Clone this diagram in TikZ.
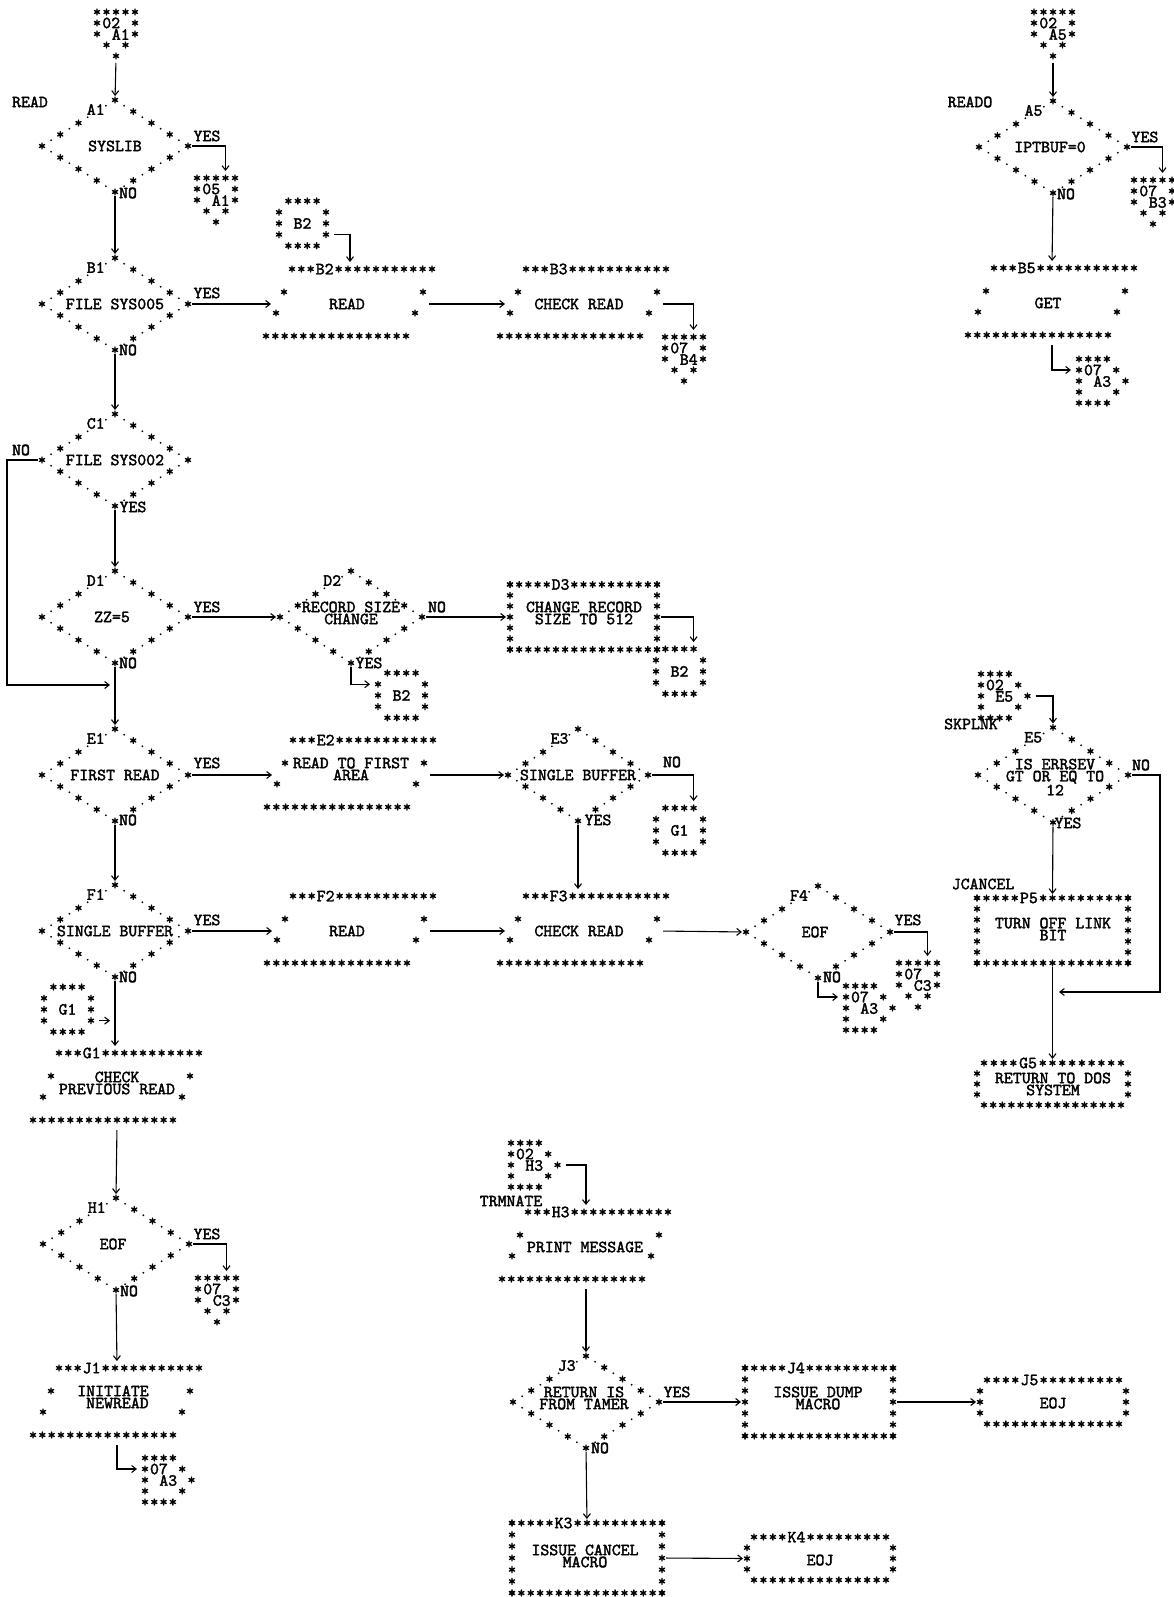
\documentclass[tikz,border=0pt]{standalone}
\usepackage{fontspec}
\usetikzlibrary{calc,arrows.meta,shapes.geometric}

% line-printer lettering
\newfontfamily\lpfam{lmmono10-regular.otf}[FakeBold=2]
\newcommand\lpf{\lpfam\fontsize{17}{12}\selectfont}

\tikzset{
  ast/.pic={\draw[line width=1.4pt,line cap=round]
      (0,-3pt)--(0,3pt) (-2.6pt,-1.5pt)--(2.6pt,1.5pt) (-2.6pt,1.5pt)--(2.6pt,-1.5pt);},
  pdot/.pic={\fill (0,0) circle (1pt);},
  lp/.style={font=\lpf, inner sep=0pt, outer sep=0pt},
  dia/.style={shape=diamond, inner sep=0pt, outer sep=0pt, minimum width=146pt, minimum height=92pt},
  iobox/.style={shape=rectangle, inner sep=0pt, outer sep=0pt, minimum width=150pt, minimum height=76pt},
  frame/.style={shape=rectangle, inner sep=0pt, outer sep=0pt},
  flow/.style={line width=1.1pt, -{Straight Barb[length=4.5pt,width=7pt,line width=1.1pt]},
    shorten <=4pt, shorten >=4pt},
}

% asterisks from #1 to #2 in #3 steps, cells #4..#5 left free
\newcommand\starline[5]{%
  \foreach \ii in {0,...,#3}{%
    \ifnum\ii<\numexpr#4\relax
      \pic at ($(#1)!\ii/#3!(#2)$) {ast};%
    \else\ifnum\ii>\numexpr#5\relax
      \pic at ($(#1)!\ii/#3!(#2)$) {ast};%
    \fi\fi}}

% decision outline: asterisks and dots, upper-left slot kept for the id
\newcommand\diastars[1]{%
  \foreach \ea/\eb in {north/east,east/south,south/west}{%
    \foreach \tq in {0,0.25,0.5,0.75}{\pic at ($(#1.\ea)!\tq!(#1.\eb)$) {ast};}}%
  \foreach \tq in {0,0.25,0.5}{\pic at ($(#1.west)!\tq!(#1.north)$) {ast};}%
  \foreach \ea/\eb in {north/east,east/south,south/west,west/north}{%
    \foreach \tq in {0.125,0.375,0.625,0.875}{\pic at ($(#1.\ea)!\tq!(#1.\eb)$) {pdot};}}}
\newcommand\dialabel[2]{\node[lp] (#1-id) at ($(#1.north)!0.25!(#1.west)+(-1,-2)$) {#2};}

% input/output outline (slanted)
\newcommand\iostars[2]{%
  \foreach \ii in {0,...,15}{%
    \ifnum\ii=3 \else\ifnum\ii=4 \else\pic at ($(#1)+(-58+\ii*9.33,-35)$) {ast};\fi\fi
    \pic at ($(#1)+(-84+\ii*9.33,32)$) {ast};}%
  \foreach \dx/\dy in {-66/-12,-74/9,73/-12,65/9}{\pic at ($(#1)+(\dx,\dy)$) {ast};}%
  \node[lp] (#1-id) at ($(#1)+(-58+3.5*9.33,-35)$) {#2};}

% process outline
\newcommand\procstars[4]{%
  \starline{#1.north west}{#1.north east}{#2}{5}{6}%
  \starline{#1.south west}{#1.south east}{#2}{99}{99}%
  \starline{#1.north west}{#1.south west}{#3}{99}{99}%
  \starline{#1.north east}{#1.south east}{#3}{99}{99}%
  \node[lp] (#1-id) at ($(#1.north west)!5.5/#2!(#1.north east)$) {#4};}

% terminal outline
\newcommand\termstars[4]{%
  \coordinate (#1-a) at ($(#1.north west)+(7,0)$);
  \coordinate (#1-b) at ($(#1.north east)+(-7,0)$);
  \coordinate (#1-c) at ($(#1.south west)+(7,0)$);
  \coordinate (#1-d) at ($(#1.south east)+(-7,0)$);
  \starline{#1-a}{#1-b}{#2}{4}{5}%
  \starline{#1-c}{#1-d}{#3}{99}{99}%
  \foreach \tq in {0.25,0.5,0.75}{%
    \pic at ($(#1.north west)!\tq!(#1.south west)$) {ast};
    \pic at ($(#1.north east)!\tq!(#1.south east)$) {ast};}%
  \node[lp] (#1-id) at ($(#1-a)!4.5/#2!(#1-b)$) {#4};}

% off-page connector, pointing down
\newcommand\offdown[5]{%
  \node[frame, minimum width=38pt, minimum height=44pt] (#1) at (#2+19,#3+22) {};
  \foreach \ii in {0,...,4}{\pic at (#2+\ii*9.5,#3) {ast};}
  \foreach \ii in {1,2}{\pic at (#2,#3+\ii*11) {ast}; \pic at (#2+38,#3+\ii*11) {ast};}
  \pic at (#2+9.5,#3+33) {ast}; \pic at (#2+28.5,#3+33) {ast}; \pic at (#2+19,#3+44) {ast};
  \node[lp] (#1-n) at (#2+14.25,#3+11) {#4};
  \node[lp] (#1-r) at (#2+23.75,#3+22.5) {#5};
  \coordinate (#1-in) at (#2+28.5,#3-3);
  \coordinate (#1-out) at (#2+19,#3+47);}

% off-page connector, pointing right
\newcommand\offright[5]{%
  \node[frame, minimum width=46pt, minimum height=44pt] (#1) at (#2+23,#3+22) {};
  \foreach \ii in {0,...,3}{\pic at (#2+\ii*9.3,#3) {ast}; \pic at (#2+\ii*9.3,#3+44) {ast};}
  \foreach \ii in {1,2,3}{\pic at (#2,#3+\ii*11) {ast};}
  \pic at (#2+37.2,#3+11) {ast}; \pic at (#2+46.5,#3+22) {ast}; \pic at (#2+37.2,#3+33) {ast};
  \node[lp] (#1-n) at (#2+13.95,#3+11) {#4};
  \node[lp] (#1-r) at (#2+23.25,#3+22.5) {#5};
  \coordinate (#1-in) at (#2-4,#3+11);
  \coordinate (#1-out) at (#2+50.5,#3+22);}

% on-page connector
\newcommand\oncon[4]{%
  \node[frame, minimum width=47pt, minimum height=45pt] (#1) at (#2+23.5,#3+22.4) {};
  \foreach \ii in {1,...,4}{\pic at (#2+\ii*9.4,#3) {ast}; \pic at (#2+\ii*9.4,#3+44.8) {ast};}
  \foreach \ii in {1,2,3}{\pic at (#2,#3+\ii*11.2) {ast}; \pic at (#2+47,#3+\ii*11.2) {ast};}
  \node[lp] (#1-r) at (#2+23.5,#3+22.4) {#4};
  \coordinate (#1-inl) at (#2-4,#3+11.2);
  \coordinate (#1-int) at (#2+37.6,#3-3);
  \coordinate (#1-out) at (#2+51,#3+33.6);}

\begin{document}
\begin{tikzpicture}[x=1pt,y=-1pt]
\fill[white] (0,0) rectangle (1173,1597);
\useasboundingbox (0,0) rectangle (1173,1597);

% ---------------- entry READ ----------------
\offdown{oA}{97}{12}{02}{A1}
\node[lp] (lbl-read) at (30,102) {READ};
\node[dia] (a1) at (115,146) {};
\diastars{a1}\dialabel{a1}{A1}
\node[lp] (a1-t) at (a1) {SYSLIB};
\node[lp] (a1-yes) at (207,136) {YES};
\node[lp] (a1-no) at (128,193) {NO};
\offdown{oB}{197}{178}{05}{A1}

\node[dia] (b1) at (115,304) {};
\diastars{b1}\dialabel{b1}{B1}
\node[lp] (b1-t) at (b1) {FILE SYS005};
\node[lp] (b1-yes) at (207,293) {YES};
\node[lp] (b1-no) at (128,350) {NO};

\oncon{cA}{279}{201}{B2}
\node[iobox] (b2io) at (350,304) {};
\iostars{b2io}{B2}
\node[lp] (b2io-t) at (347,304) {READ};

\node[iobox] (b3io) at (584,304) {};
\iostars{b3io}{B3}
\node[lp] (b3io-t) at (579,304) {CHECK READ};
\offdown{oC}{665}{337}{07}{B4}

\node[dia] (c1) at (115,460) {};
\diastars{c1}\dialabel{c1}{C1}
\node[lp] (c1-t) at (c1) {FILE SYS002};
\node[lp] (c1-no) at (21,450) {NO};
\node[lp] (c1-yes) at (133,507) {YES};
\coordinate (mrgC) at (114,685);

\node[dia] (d1) at (115,617) {};
\diastars{d1}\dialabel{d1}{D1}
\node[lp] (d1-t) at (112,617) {ZZ=5};
\node[lp] (d1-yes) at (207,607) {YES};
\node[lp] (d1-no) at (128,663) {NO};

\node[dia, minimum width=142pt] (d2) at (351,617) {};
\diastars{d2}\dialabel{d2}{D2}
\node[lp, align=center] (d2-t) at (351,613) {RECORD SIZE\\CHANGE};
\node[lp] (d2-no) at (437,607) {NO};
\node[lp] (d2-yes) at (369,663) {YES};
\oncon{cB}{378}{673}{B2}

\node[frame, minimum width=147pt, minimum height=65pt] (d3) at (583.5,617) {};
\procstars{d3}{16}{6}{D3}
\node[lp, align=center] (d3-t) at (584,613) {CHANGE RECORD\\SIZE TO 512};
\oncon{cC}{656}{649}{B2}

\node[dia] (e1) at (115,775) {};
\diastars{e1}\dialabel{e1}{E1}
\node[lp] (e1-t) at (e1) {FIRST READ};
\node[lp] (e1-yes) at (207,763) {YES};
\node[lp] (e1-no) at (128,820) {NO};

\node[iobox] (e2io) at (351,775) {};
\iostars{e2io}{E2}
\node[lp, align=center] (e2io-t) at (351,769) {READ TO FIRST\\AREA};

\node[dia, minimum width=140pt] (e3) at (578,775) {};
\diastars{e3}\dialabel{e3}{E3}
\node[lp] (e3-t) at (e3) {SINGLE BUFFER};
\node[lp] (e3-no) at (672,762) {NO};
\node[lp] (e3-yes) at (598,820) {YES};
\oncon{cD}{656}{808}{G1}

\node[dia] (f1) at (115,931) {};
\diastars{f1}\dialabel{f1}{F1}
\node[lp] (f1-t) at (f1) {SINGLE BUFFER};
\node[lp] (f1-yes) at (207,920) {YES};
\node[lp] (f1-no) at (128,977) {NO};

\node[iobox] (f2io) at (351,931) {};
\iostars{f2io}{F2}
\node[lp] (f2io-t) at (347,931) {READ};

\node[iobox] (f3io) at (584,931) {};
\iostars{f3io}{F3}
\node[lp] (f3io-t) at (579,931) {CHECK READ};

\node[dia, minimum width=144pt] (f4) at (818,932) {};
\diastars{f4}\dialabel{f4}{F4}
\node[lp] (f4-t) at (815,932) {EOF};
\node[lp] (f4-yes) at (908,920) {YES};
\node[lp] (f4-no) at (832,977) {NO};
\offdown{oF}{899}{963}{07}{C3}
\offright{rB}{846}{986}{07}{A3}

\oncon{cE}{44}{987}{G1}
\coordinate (mrgG) at (114,1020.6);
\node[iobox] (g1io) at (117,1088) {};
\iostars{g1io}{G1}
\node[lp, align=center] (g1io-t) at (117,1083) {CHECK\\PREVIOUS READ};

\node[dia] (h1) at (116,1244) {};
\diastars{h1}\dialabel{h1}{H1}
\node[lp] (h1-t) at (113,1244) {EOF};
\node[lp] (h1-yes) at (207,1234) {YES};
\node[lp] (h1-no) at (129,1291) {NO};
\offdown{oG}{198}{1278}{07}{C3}

\node[iobox] (j1io) at (117,1403) {};
\iostars{j1io}{J1}
\node[lp, align=right] (j1io-t) at (113,1397) {INITIATE\\NEWREAD};
\offright{rC}{145}{1458}{07}{A3}

% ---------------- entry TRMNATE ----------------
\offright{rE}{511}{1143}{02}{H3}
\node[lp] (lbl-trm) at (511,1201) {TRMNATE};
\node[iobox] (h3io) at (586,1247) {};
\iostars{h3io}{H3}
\node[lp] (h3io-t) at (585,1247) {PRINT MESSAGE};

\node[dia] (j3) at (586,1402) {};
\diastars{j3}\dialabel{j3}{J3}
\node[lp, align=center] (j3-t) at (584,1398) {RETURN IS\\FROM TAMER};
\node[lp] (j3-yes) at (677,1392) {YES};
\node[lp] (j3-no) at (600,1448) {NO};

\node[frame, minimum width=148pt, minimum height=68pt] (j4) at (819,1402) {};
\procstars{j4}{16}{6}{J4}
\node[lp, align=center] (j4-t) at (818,1398) {ISSUE DUMP\\MACRO};

\node[frame, minimum width=146pt, minimum height=44pt] (j5) at (1053,1402) {};
\termstars{j5}{14}{14}{J5}
\node[lp] (j5-t) at (1053,1403) {EOJ};

\node[frame, minimum width=150pt, minimum height=70pt] (k3) at (587,1558) {};
\procstars{k3}{16}{6}{K3}
\node[lp, align=center] (k3-t) at (585,1556) {ISSUE CANCEL\\MACRO};

\node[frame, minimum width=146pt, minimum height=43pt] (k4) at (820,1558.5) {};
\termstars{k4}{14}{14}{K4}
\node[lp] (k4-t) at (820,1560) {EOJ};

% ---------------- entry READO ----------------
\offdown{oD}{1034}{12}{02}{A5}
\node[lp] (lbl-reado) at (970,102) {READO};
\node[dia, minimum width=148pt] (a5) at (1053,147) {};
\diastars{a5}\dialabel{a5}{A5}
\node[lp] (a5-t) at (1050,147) {IPTBUF=0};
\node[lp] (a5-yes) at (1145,137) {YES};
\node[lp] (a5-no) at (1066,194) {NO};
\offdown{oE}{1134}{180}{07}{B3}

\node[iobox] (b5io) at (1052,303) {};
\iostars{b5io}{B5}
\node[lp] (b5io-t) at (1048,303) {GET};
\offright{rA}{1079}{359}{07}{A3}

% ---------------- entry SKPLNK ----------------
\offright{rD}{981}{674}{02}{E5}
\node[lp] (lbl-skp) at (971,724) {SKPLNK};
\node[dia, minimum width=150pt, minimum height=95pt] (e5) at (1053,775) {};
\diastars{e5}\dialabel{e5}{E5}
\node[lp, align=center] (e5-t) at (1055,777) {IS ERRSEV\\GT OR EQ TO\\12};
\node[lp] (e5-no) at (1141,765) {NO};
\node[lp] (e5-yes) at (1068,823) {YES};
\coordinate (mrgE) at (1055,992);

\node[lp] (lbl-jc) at (983,884) {JCANCEL};
\node[frame, minimum width=151pt, minimum height=65pt] (p5) at (1052.5,930.5) {};
\procstars{p5}{16}{6}{P5}
\node[lp, align=center] (p5-t) at (1053,929) {TURN OFF LINK\\BIT};

\node[frame, minimum width=151pt, minimum height=42pt] (g5) at (1052.5,1084) {};
\termstars{g5}{14}{15}{G5}
\node[lp, align=center] (g5-t) at (1053,1084) {RETURN TO DOS\\SYSTEM};

% ---------------- connectors ----------------
\draw[flow] (oA-out) -- (a1.north);
\draw[flow] (a1.east) -| (oB-in);
\draw[flow] (a1.south) -- (b1.north);
\draw[flow] (b1.east) -- (b2io.west);
\draw[flow] (cA-out) -| (b2io.north);
\draw[flow] (b2io.east) -- (b3io.west);
\draw[flow] (b3io.east) -| (oC-in);
\draw[flow] (b1.south) -- (c1.north);
\draw[flow] (c1.west) -- ++(-35,0) |- (mrgC);
\draw[flow] (c1.south) -- (d1.north);
\draw[flow] (d1.east) -- (d2.west);
\draw[flow] (d2.east) -- (d3.west);
\draw[flow] (d3.east) -| (cC-int);
\draw[flow] (d2.south) |- (cB-inl);
\draw[flow] (d1.south) -- (e1.north);
\draw[flow] (e1.east) -- (e2io.west);
\draw[flow] (e2io.east) -- (e3.west);
\draw[flow] (e3.east) -| (cD-int);
\draw[flow] (e3.south) -- (e3.south |- f3io.north);
\draw[flow] (e1.south) -- (f1.north);
\draw[flow] (f1.east) -- (f2io.west);
\draw[flow] (f2io.east) -- (f3io.west);
\draw[flow] (f3io.east) -- (f4.west);
\draw[flow] (f4.east) -| (oF-in);
\draw[flow] (f4.south) |- (rB-in);
\draw[flow] (f1.south) -- (f1.south |- g1io.north);
\draw[flow] (cE-out) -- (mrgG);
\draw[flow] (g1io.south) -- (h1.north);
\draw[flow] (h1.east) -| (oG-in);
\draw[flow] (h1.south) -- (j1io.north);
\draw[flow] (j1io.south) |- (rC-in);
\draw[flow] (rE-out) -| (h3io.north);
\draw[flow] (h3io.south) -- (j3.north);
\draw[flow] (j3.east) -- (j4.west);
\draw[flow] (j4.east) -- (j5.west);
\draw[flow] (j3.south) -- (k3.north);
\draw[flow] (k3.east) -- (k4.west);
\draw[flow] (oD-out) -- (a5.north);
\draw[flow] (a5.east) -| (oE-in);
\draw[flow] (a5.south) -- (b5io.north);
\draw[flow] (b5io.south) |- (rA-in);
\draw[flow] (rD-out) -| (e5.north);
\draw[flow] (e5.south) -- (p5.north);
\draw[flow] (e5.east) -- ++(32,0) |- (mrgE);
\draw[flow] (p5.south) -- (g5.north);
\end{tikzpicture}
\end{document}
